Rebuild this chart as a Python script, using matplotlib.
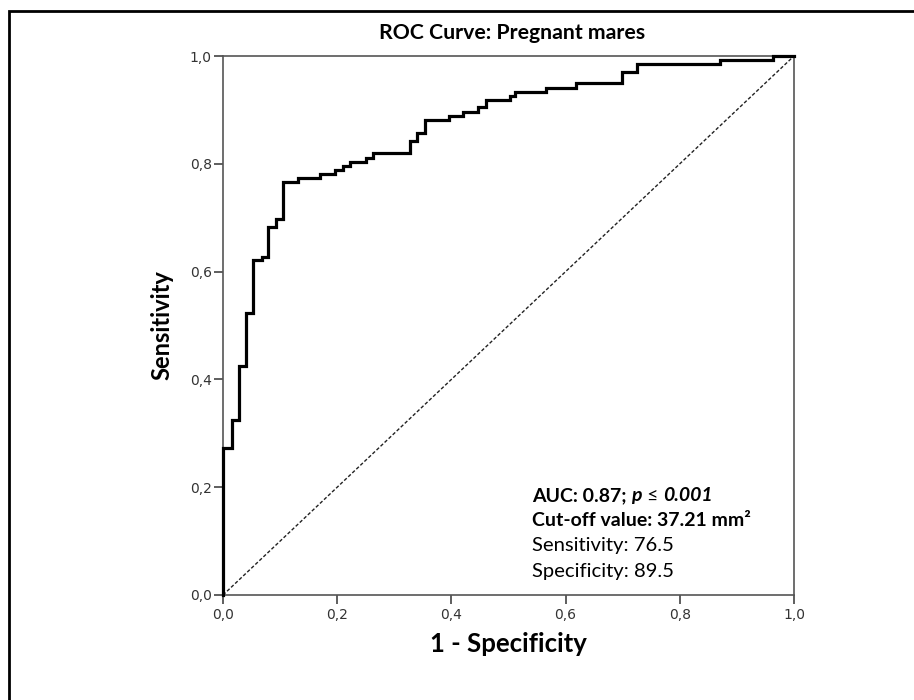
import matplotlib
matplotlib.use("Agg")
import matplotlib.pyplot as plt
from matplotlib.patches import Rectangle

# ROC points (1 - specificity, sensitivity)
fpr = [0.000, 0.000, 0.015, 0.028, 0.040, 0.053, 0.068, 0.079, 0.092, 0.105,
       0.131, 0.170, 0.196, 0.210, 0.222, 0.250, 0.262, 0.328, 0.340, 0.354,
       0.395, 0.421, 0.447, 0.461, 0.503, 0.511, 0.566, 0.619, 0.698, 0.725,
       0.870, 0.964, 1.000]
tpr = [0.000, 0.273, 0.325, 0.424, 0.523, 0.621, 0.627, 0.683, 0.697, 0.767,
       0.774, 0.782, 0.788, 0.795, 0.803, 0.811, 0.820, 0.842, 0.857, 0.881,
       0.888, 0.897, 0.905, 0.918, 0.926, 0.933, 0.941, 0.949, 0.970, 0.985,
       0.992, 1.000, 1.000]

ref_x = [0.0, 1.0]
ref_y = [0.0, 1.0]

ticks = [0.0, 0.2, 0.4, 0.6, 0.8, 1.0]
tick_labels = ["0,0", "0,2", "0,4", "0,6", "0,8", "1,0"]

title = "ROC Curve: Pregnant mares"
xlabel = "1 - Specificity"
ylabel = "Sensitivity"
line_cutoff = "Cut-off value: 37.21 mm²"
line_sens = "Sensitivity: 76.5"
line_spec = "Specificity: 89.5"

font = "Lato"
spine_col = "#555555"

fig = plt.figure(figsize=(9.14, 7.0), dpi=100)
ax = fig.add_axes([223/914, 1 - 595/700, 571/914, 539/700])

ax.plot(ref_x, ref_y, color="#222222", lw=1.0, linestyle=(0, (2.5, 1.5)))
ax.plot(fpr, tpr, color="black", lw=2.3, drawstyle="steps-post",
        solid_joinstyle="miter", clip_on=False, zorder=3)

ax.set_xlim(0, 1)
ax.set_ylim(0, 1)
ax.set_xticks(ticks)
ax.set_xticklabels(tick_labels)
ax.set_yticks(ticks)
ax.set_yticklabels(tick_labels)
ax.tick_params(direction="out", length=6.5, width=1.1, color="#333333",
               labelsize=10, labelcolor="#333333")
ax.tick_params(axis="x", pad=3)
ax.tick_params(axis="y", pad=1.5)
for s in ax.spines.values():
    s.set_color(spine_col)
    s.set_linewidth(1.2)

ax.set_xlabel(xlabel, fontsize=18.5, fontweight="bold", family=font)
ax.set_ylabel(ylabel, fontsize=17, fontweight="bold", family=font)
ax.xaxis.set_label_coords(0.5, -0.068)
ax.yaxis.set_label_coords(-0.086, 0.5)

fig.text(512/914, 1 - 33/700, title, ha="center", va="center",
         fontsize=15.3, fontweight="bold", family=font)

# annotation block
fs_b = 14
fs_r = 14.6
x0 = 0.541
t1 = ax.text(x0, 0.1846, "AUC: 0.87; ", fontsize=fs_b, fontweight="bold",
             family=font, va="center", ha="left")
t2 = ax.annotate("p", xy=(1, 0), xycoords=t1, va="bottom", ha="left",
                 fontsize=fs_b, fontweight="bold", fontstyle="italic", family=font)
t3 = ax.annotate(" ≤ ", xy=(1, 0), xycoords=t2, va="bottom", ha="left",
                 fontsize=fs_b, family=font)
t4 = ax.annotate("0.001", xy=(1, 0), xycoords=t3, va="bottom", ha="left",
                 fontsize=fs_b, fontweight="bold", fontstyle="italic", family=font)
ax.text(x0, 0.1373, line_cutoff, fontsize=fs_b, fontweight="bold", family=font,
        va="center", ha="left")
ax.text(x0, 0.0918, line_sens, fontsize=fs_r, family=font, va="center", ha="left")
ax.text(x0, 0.0438, line_spec, fontsize=fs_r, family=font, va="center", ha="left")

# outer frame, runs off the right and bottom edges
fig.add_artist(Rectangle((9/914, -0.5), 2.0, 0.5 + 1 - 11/700,
                         transform=fig.transFigure, fill=False,
                         edgecolor="black", lw=2.0, clip_on=False))

fig.savefig("out.png", dpi=100, facecolor="white")
